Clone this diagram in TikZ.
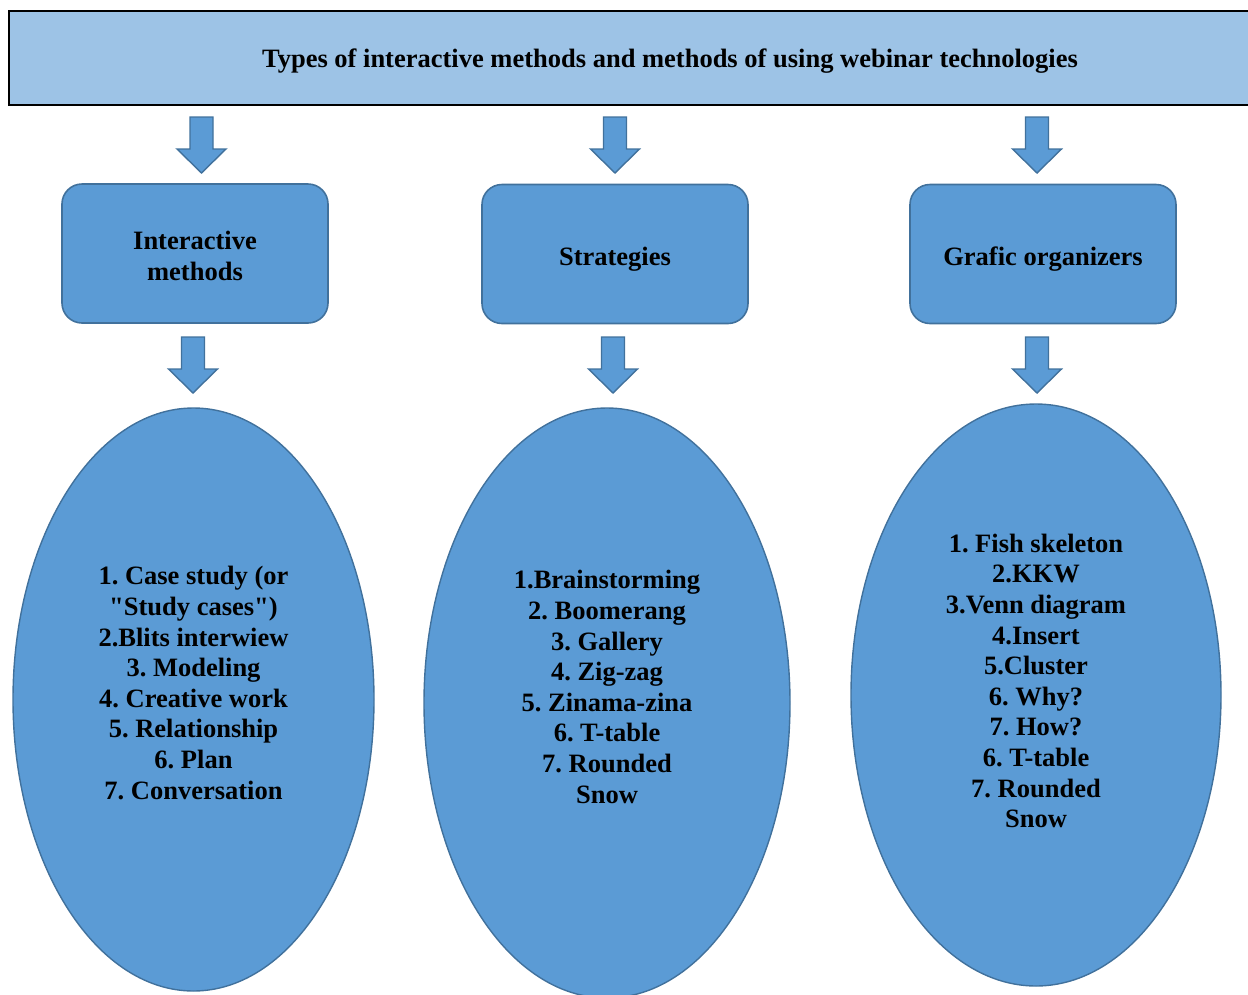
\documentclass[tikz,border=0pt]{standalone}
\usepackage{fontspec}
\setmainfont{Liberation Serif}
\newfontfamily\qfont{Liberation Serif}[Ligatures=TeXOff]
\usetikzlibrary{shapes.geometric}
\definecolor{headfill}{HTML}{9DC3E6}
\definecolor{blockfill}{HTML}{5B9BD5}
\definecolor{blockline}{HTML}{41719C}
% straight double quote, kept out of the TeX ligature mapping
\newcommand{\sq}{{\qfont\bfseries"}}
\tikzset{
  header/.style={draw=black, line width=2pt, fill=headfill},
  catbox/.style={draw=blockline, line width=1.6pt, fill=blockfill, rounded corners=20pt,
    minimum width=266pt, minimum height=139pt},
  boxtext/.style={align=center, font=\fontsize{26.5}{31}\selectfont\bfseries},
  listoval/.style={ellipse, draw=blockline, line width=1.4pt, fill=blockfill, inner sep=0pt},
  listtext/.style={align=center, font=\fontsize{26.5}{30.6}\selectfont\bfseries},
  arrowstyle/.style={draw=blockline, line width=1.4pt, fill=blockfill, line join=miter},
  downarrow/.pic={
    \draw[arrowstyle] (-11.5,0) -- (11.5,0) -- (11.5,32) -- (24.5,32) -- (0,56)
      -- (-24.5,32) -- (-11.5,32) -- cycle;
  }
}
\begin{document}
\frenchspacing
\begin{tikzpicture}[x=1pt,y=-1pt]
  \useasboundingbox (0,0) rectangle (1248,994);

  % title bar
  \draw[header] (9,11) rectangle (1256,105);
  \node[font=\fontsize{26.5}{30}\selectfont\bfseries] (title) at (670,61) {Types of interactive methods and methods of using webinar technologies};

  % arrows from the title bar
  \pic at (201.5,117) {downarrow};
  \pic at (615,117) {downarrow};
  \pic at (1037,117) {downarrow};

  % category boxes
  \node[catbox] (interactive) at (195,253.5) {};
  \node[boxtext] (interactive-text) at (195,256) {Interactive\\methods};
  \node[catbox] (strategies) at (615,254) {};
  \node[boxtext, anchor=base] (strategies-text) at (615,265) {Strategies};
  \node[catbox] (organizers) at (1043,254) {};
  \node[boxtext, anchor=base] (organizers-text) at (1043,265) {Grafic organizers};

  % arrows to the lists
  \pic at (193,337) {downarrow};
  \pic at (613,337) {downarrow};
  \pic at (1037,337) {downarrow};

  % lists
  \node[listoval, minimum width=361pt, minimum height=583pt] (list1) at (193.5,699.5) {};
  \node[listtext] (text1) at (193.5,683) {1. Case study (or\\\sq Study cases\sq)\\2.Blits interwiew\\3. Modeling\\4. Creative work\\5. Relationship\\6. Plan\\7. Conversation};

  \node[listoval, minimum width=366pt, minimum height=590pt] (list2) at (607,703) {};
  \node[listtext] (text2) at (607,687) {1.Brainstorming\\2. Boomerang\\3. Gallery\\4. Zig-zag\\5. Zinama-zina\\6. T-table\\7. Rounded\\Snow};

  \node[listoval, minimum width=370pt, minimum height=582pt] (list3) at (1036,695) {};
  \node[listtext] (text3) at (1036,681) {1. Fish skeleton\\2.KKW\\3.Venn diagram\\4.Insert\\5.Cluster\\6. Why?\\7. How?\\6. T-table\\7. Rounded\\Snow};
\end{tikzpicture}
\end{document}
